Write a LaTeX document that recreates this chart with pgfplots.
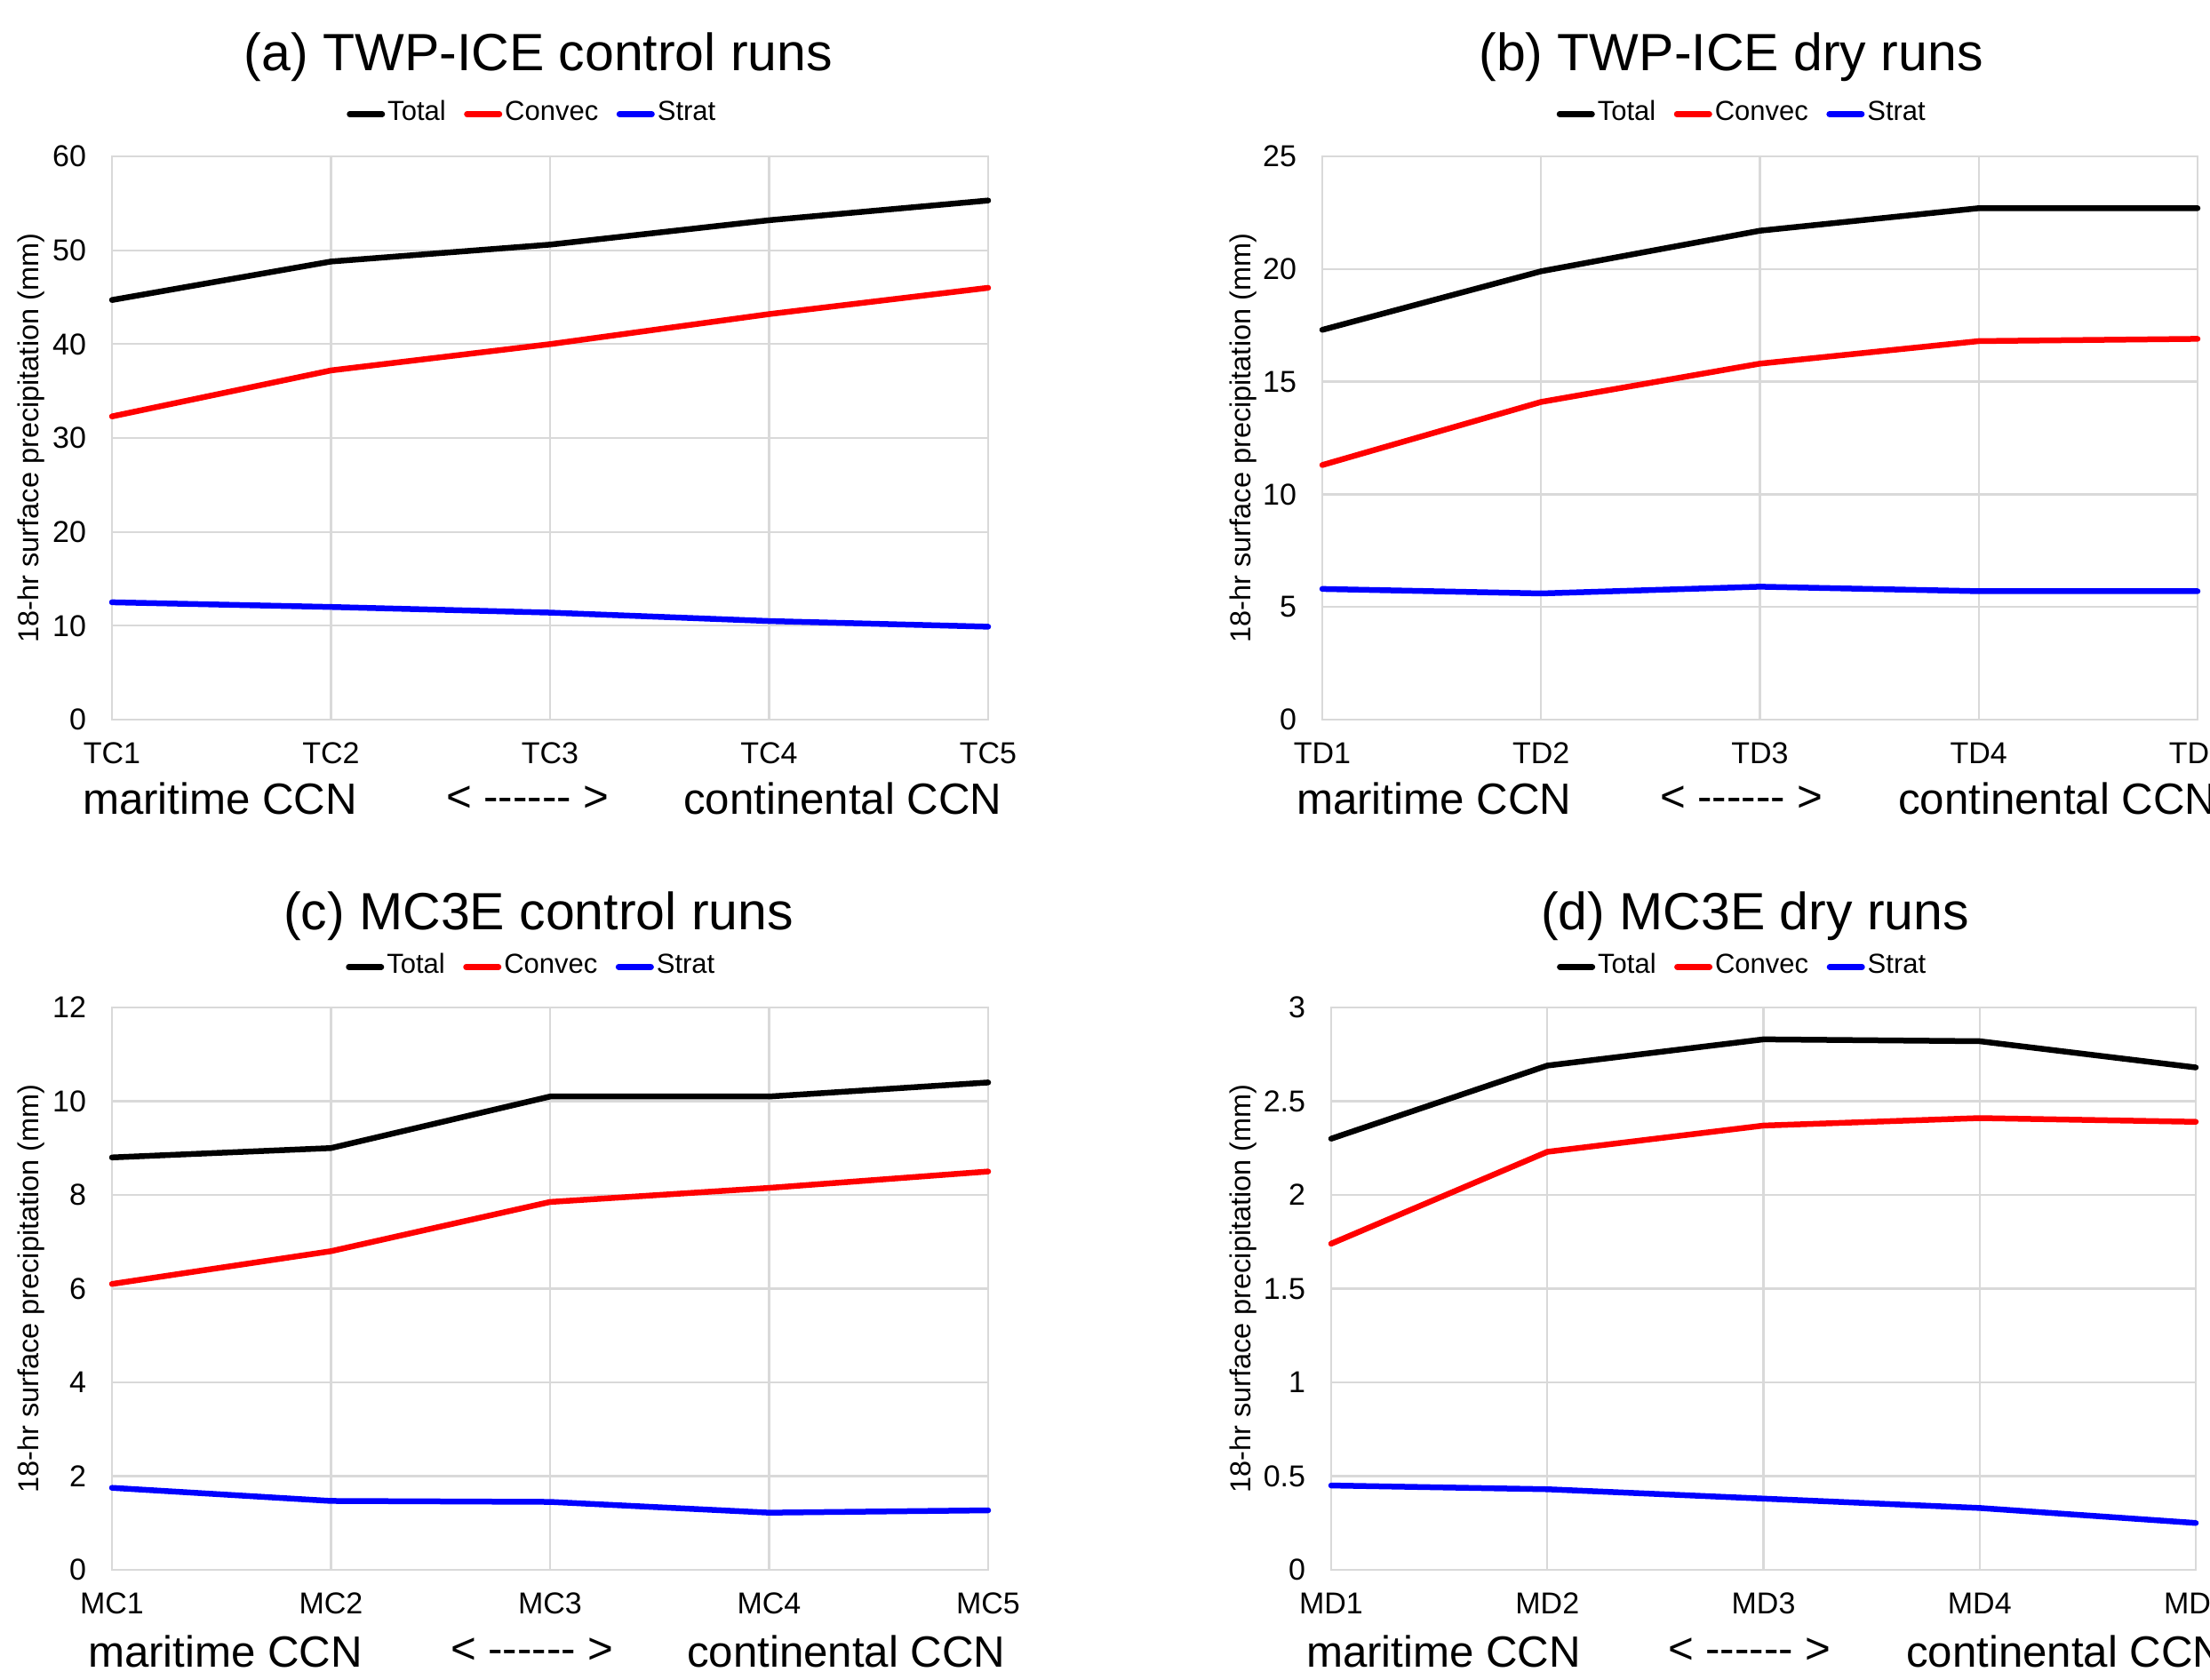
\documentclass[border=0pt]{standalone}
\usepackage{fontspec}
\setmainfont{Liberation Sans}
\usepackage{pgfplots}
\usepackage{pgfplotstable}
\pgfplotsset{compat=1.18}
\definecolor{gridgray}{HTML}{D9D9D9}
\definecolor{myred}{HTML}{FF0000}
\definecolor{myblue}{HTML}{0000FF}

\pgfplotstableread{
x total convec strat
0 44.7 32.3 12.5
1 48.8 37.2 12.0
2 50.6 40.0 11.4
3 53.2 43.2 10.5
4 55.3 46.0 9.9
}\dataA
\pgfplotstableread{
x total convec strat
0 17.3 11.3 5.8
1 19.9 14.1 5.6
2 21.7 15.8 5.9
3 22.7 16.8 5.7
4 22.7 16.9 5.7
}\dataB
\pgfplotstableread{
x total convec strat
0 8.8 6.1 1.75
1 9.0 6.8 1.47
2 10.1 7.85 1.45
3 10.1 8.15 1.22
4 10.4 8.5 1.27
}\dataC
\pgfplotstableread{
x total convec strat
0 2.30 1.74 0.45
1 2.69 2.23 0.43
2 2.83 2.37 0.38
3 2.82 2.41 0.33
4 2.68 2.39 0.25
}\dataD

\pgfplotsset{
 panel/.style={
   scale only axis, anchor=south west,
   xmin=0, xmax=4, xtick={0,1,2,3,4},
   grid=major, grid style={gridgray, line width=0.45pt},
   axis line style={gridgray, line width=0.45pt},
   major tick length=0pt,
   tick label style={font=\fontsize{6.8}{8}\selectfont},
   /pgf/number format/assume math mode=true,
   yticklabel style={inner sep=0pt, anchor=east, xshift=-5.6pt},
   xticklabel style={inner sep=0pt, anchor=north, yshift=-5pt},
   ylabel={18-hr surface precipitation (mm)},
   ylabel style={font=\fontsize{6.5}{8}\selectfont, anchor=center},
   legend columns=3,
   legend style={draw=none, fill=none, font=\fontsize{6.2}{7}\selectfont, anchor=center, inner sep=0pt,
     nodes={inner sep=0.6pt},
     /tikz/every even column/.append style={column sep=3.5pt}},
   legend image code/.code={\draw[#1, line width=1.3pt] (0pt,0pt) -- (7.3pt,0pt);},
   clip=false,
   every axis plot/.append style={line width=1.3pt, line cap=round, line join=round, mark=none},
 },
}

\newcommand{\rowtext}[4]{%
  \node[anchor=west, inner sep=0pt, font=\fontsize{9.85}{11}\selectfont] at (#1pt,#4pt) {maritime CCN};
  \node[anchor=west, inner sep=0pt, font=\fontsize{9.85}{11}\selectfont] at (#2pt,#4pt) {< {-}{-}{-}{-}{-}{-} >};
  \node[anchor=west, inner sep=0pt, font=\fontsize{9.85}{11}\selectfont] at (#3pt,#4pt) {continental CCN};
}

\begin{document}
\begin{tikzpicture}
\begin{scope}
\clip (0,0) rectangle (497.4pt,378pt);

% (a)
\begin{axis}[panel, at={(25.2pt,216.0pt)}, width=197.2pt, height=126.8pt,
  ymin=0, ymax=60, ytick={0,10,...,60}, xticklabels={TC1,TC2,TC3,TC4,TC5},
  ylabel style={at={(axis description cs:-0.0923,0.5)}},
  legend style={at={(axis description cs:0.48,1.075)}}]
\addplot[black] table[x=x,y=total]{\dataA};
\addplot[myred] table[x=x,y=convec]{\dataA};
\addplot[myblue] table[x=x,y=strat]{\dataA};
\legend{Total,Convec,Strat}
\end{axis}

% (b)
\begin{axis}[panel, at={(297.6pt,216.0pt)}, width=197pt, height=126.8pt,
  ymin=0, ymax=25, ytick={0,5,...,25}, xticklabels={TD1,TD2,TD3,TD4,TD5},
  ylabel style={at={(axis description cs:-0.090,0.5)}},
  legend style={at={(axis description cs:0.48,1.075)}}]
\addplot[black] table[x=x,y=total]{\dataB};
\addplot[myred] table[x=x,y=convec]{\dataB};
\addplot[myblue] table[x=x,y=strat]{\dataB};
\legend{Total,Convec,Strat}
\end{axis}

% (c)
\begin{axis}[panel, at={(25.2pt,24.6pt)}, width=197.2pt, height=126.6pt,
  ymin=0, ymax=12, ytick={0,2,...,12}, xticklabels={MC1,MC2,MC3,MC4,MC5},
  ylabel style={at={(axis description cs:-0.0923,0.5)}},
  legend style={at={(axis description cs:0.479,1.072)}}]
\addplot[black] table[x=x,y=total]{\dataC};
\addplot[myred] table[x=x,y=convec]{\dataC};
\addplot[myblue] table[x=x,y=strat]{\dataC};
\legend{Total,Convec,Strat}
\end{axis}

% (d)
\begin{axis}[panel, at={(299.6pt,24.6pt)}, width=194.6pt, height=126.6pt,
  ymin=0, ymax=3, ytick={0,0.5,1,1.5,2,2.5,3}, xticklabels={MD1,MD2,MD3,MD4,MD5},
  ylabel style={at={(axis description cs:-0.102,0.5)}},
  legend style={at={(axis description cs:0.476,1.072)}}]
\addplot[black] table[x=x,y=total]{\dataD};
\addplot[myred] table[x=x,y=convec]{\dataD};
\addplot[myblue] table[x=x,y=strat]{\dataD};
\legend{Total,Convec,Strat}
\end{axis}

% titles
\node[font=\fontsize{11.8}{14}\selectfont, anchor=center] at (121.2pt,365.2pt) {(a) TWP-ICE control runs};
\node[font=\fontsize{11.8}{14}\selectfont, anchor=center] at (389.6pt,365.2pt) {(b) TWP-ICE dry runs};
\node[font=\fontsize{11.8}{14}\selectfont, anchor=center] at (121.2pt,171.8pt) {(c) MC3E control runs};
\node[font=\fontsize{11.8}{14}\selectfont, anchor=center] at (395.0pt,171.8pt) {(d) MC3E dry runs};

% bottom rows
\rowtext{18.4}{100.2}{153.6}{198.2}
\rowtext{291.6}{373.4}{427.0}{198.2}
\rowtext{19.6}{101.2}{154.4}{6.3}
\rowtext{293.8}{375.2}{428.8}{6.3}
\end{scope}
\pgfresetboundingbox
\useasboundingbox (0,0) rectangle (497.4pt,378pt);
\end{tikzpicture}
\end{document}
